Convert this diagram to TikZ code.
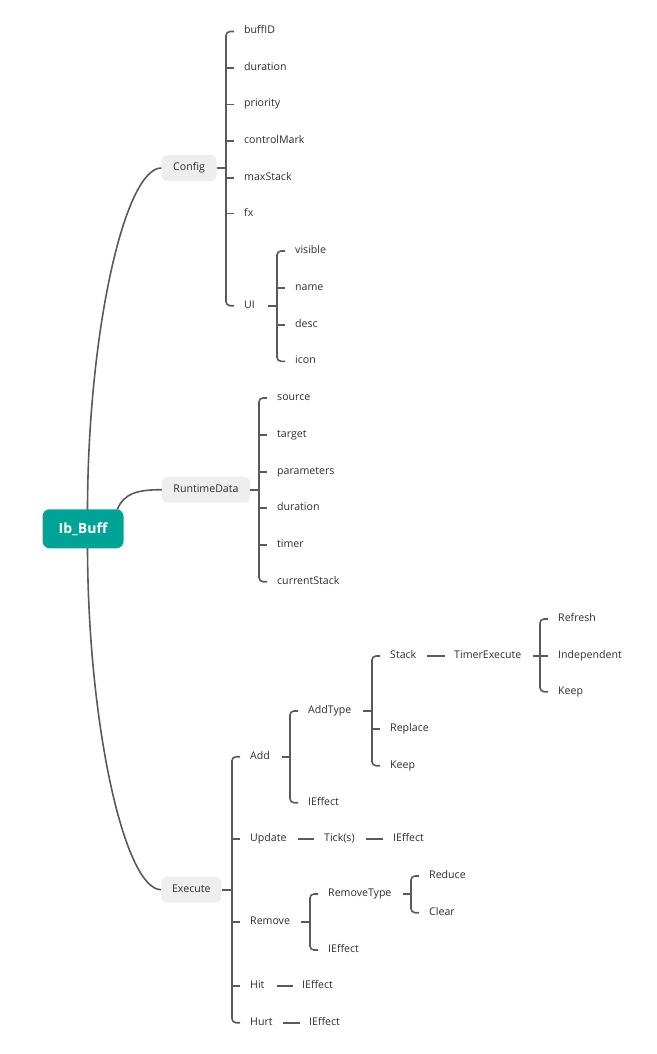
\documentclass[tikz,border=0pt]{standalone}
\usepackage{fontspec}
\setmainfont{Open Sans}
\definecolor{txt}{RGB}{45,45,45}
\definecolor{linec}{RGB}{90,90,90}
\definecolor{boxgray}{RGB}{238,238,238}
\definecolor{rootteal}{RGB}{0,163,150}
\begin{document}
\begin{tikzpicture}[x=1pt,y=-1pt,
  leaf/.style={anchor=west, inner sep=0pt, text=txt, font=\fontsize{10.6}{12}\selectfont, text height=7pt, text depth=2pt},
  topic/.style={fill=boxgray, rounded corners=6pt, minimum height=26pt, inner sep=0pt, text=txt, font=\fontsize{10.6}{12}\selectfont, text height=7pt, text depth=2pt},
  rootbox/.style={fill=rootteal, rounded corners=7pt, minimum width=81pt, minimum height=39pt, inner sep=0pt, text=white, font=\fontsize{14}{16}\selectfont\bfseries},
  conn/.style={draw=linec, line width=1.6pt},
  brack/.style={draw=linec, line width=1.6pt, rounded corners=4pt}
]
\useasboundingbox (0,0) rectangle (656,1054);

% root and main topics
\node[rootbox] (root) at (83,528.8) {Ib\_Buff};
\node[topic, minimum width=55pt] (config) at (189,168) {Config};
\node[topic, minimum width=88pt] (rt) at (206,489.7) {RuntimeData};
\node[topic, minimum width=60pt] (exec) at (191.3,889.7) {Execute};

\coordinate (rtop) at (87.5,509.5);
\coordinate (rbot) at (87.5,548);
\coordinate (rcorner) at (117.3,509.5);
\draw[conn] (rtop) .. controls (88,330) and (125,168) .. (config.west);
\draw[conn] (rbot) .. controls (88,727) and (125,889.7) .. (exec.west);
\draw[conn] (rcorner) .. controls (124,493) and (138,489.7) .. (rt.west);

% Config children
\node[leaf] (buffid) at (244,31.5) {buffID};
\node[leaf] (cdur) at (244,68) {duration};
\node[leaf] (prio) at (244,104.5) {priority};
\node[leaf] (cmark) at (244,141) {controlMark};
\node[leaf] (maxst) at (244,177.7) {maxStack};
\node[leaf] (fx) at (244,213.5) {fx};
\node[leaf] (ui) at (244,305.7) {UI};
\draw[brack] ([xshift=-10pt]buffid.west) -- ([xshift=-18pt]buffid.west) -- ([xshift=-18pt]ui.west) -- ([xshift=-10pt]ui.west);
\foreach \c in {cdur,prio,cmark,maxst,fx}
  \draw[conn] ([xshift=-18pt]\c.west) -- ([xshift=-10pt]\c.west);
\coordinate (bconfig) at ([xshift=-18pt]buffid.west);
\draw[conn] (config.east) -- (config.east -| bconfig);

% UI children
\node[leaf] (vis) at (295,251) {visible};
\node[leaf] (uname) at (295,288) {name};
\node[leaf] (desc) at (295,324.8) {desc};
\node[leaf] (icon) at (295,361.3) {icon};
\draw[brack] ([xshift=-10pt]vis.west) -- ([xshift=-18pt]vis.west) -- ([xshift=-18pt]icon.west) -- ([xshift=-10pt]icon.west);
\foreach \c in {uname,desc}
  \draw[conn] ([xshift=-18pt]\c.west) -- ([xshift=-10pt]\c.west);
\coordinate (bui) at ([xshift=-18pt]vis.west);
\draw[conn] ([xshift=13pt]ui.east) -- (ui.east -| bui);

% RuntimeData children
\node[leaf] (src) at (277,398) {source};
\node[leaf] (tgt) at (277,435) {target};
\node[leaf] (par) at (277,471.7) {parameters};
\node[leaf] (rdur) at (277,508) {duration};
\node[leaf] (timer) at (277,544.7) {timer};
\node[leaf] (cst) at (277,581.7) {currentStack};
\draw[brack] ([xshift=-10pt]src.west) -- ([xshift=-18pt]src.west) -- ([xshift=-18pt]cst.west) -- ([xshift=-10pt]cst.west);
\foreach \c in {tgt,par,rdur,timer}
  \draw[conn] ([xshift=-18pt]\c.west) -- ([xshift=-10pt]\c.west);
\coordinate (brt) at ([xshift=-18pt]src.west);
\draw[conn] (rt.east) -- (rt.east -| brt);

% Execute children
\node[leaf] (add) at (250,756.7) {Add};
\node[leaf] (upd) at (250,839) {Update};
\node[leaf] (rem) at (250,922) {Remove};
\node[leaf] (hit) at (250,985.7) {Hit};
\node[leaf] (hurt) at (250,1022.7) {Hurt};
\draw[brack] ([xshift=-10pt]add.west) -- ([xshift=-18pt]add.west) -- ([xshift=-18pt]hurt.west) -- ([xshift=-10pt]hurt.west);
\foreach \c in {upd,rem,hit}
  \draw[conn] ([xshift=-18pt]\c.west) -- ([xshift=-10pt]\c.west);
\coordinate (bexec) at ([xshift=-18pt]add.west);
\draw[conn] (exec.east) -- (exec.east -| bexec);

% Add children
\node[leaf] (addtype) at (308,711) {AddType};
\node[leaf] (addeff) at (308,802.7) {IEffect};
\draw[brack] ([xshift=-10pt]addtype.west) -- ([xshift=-18pt]addtype.west) -- ([xshift=-18pt]addeff.west) -- ([xshift=-10pt]addeff.west);
\coordinate (badd) at ([xshift=-18pt]addtype.west);
\draw[conn] ([xshift=12pt]add.east) -- (add.east -| badd);

% AddType children
\node[leaf] (stack) at (390,656) {Stack};
\node[leaf] (replace) at (390,729) {Replace};
\node[leaf] (akeep) at (390,765.7) {Keep};
\draw[brack] ([xshift=-10pt]stack.west) -- ([xshift=-18pt]stack.west) -- ([xshift=-18pt]akeep.west) -- ([xshift=-10pt]akeep.west);
\draw[conn] ([xshift=-18pt]replace.west) -- ([xshift=-10pt]replace.west);
\coordinate (batype) at ([xshift=-18pt]stack.west);
\draw[conn] ([xshift=11pt]addtype.east) -- (addtype.east -| batype);

% Stack -> TimerExecute
\node[leaf] (tex) at (454,656) {TimerExecute};
\draw[conn] ([xshift=11pt]stack.east) -- ([xshift=-9pt]tex.west);

% TimerExecute children
\node[leaf] (refresh) at (558,619) {Refresh};
\node[leaf] (indep) at (558,656) {Independent};
\node[leaf] (tkeep) at (558,691.7) {Keep};
\draw[brack] ([xshift=-10pt]refresh.west) -- ([xshift=-18pt]refresh.west) -- ([xshift=-18pt]tkeep.west) -- ([xshift=-10pt]tkeep.west);
\draw[conn] ([xshift=-18pt]indep.west) -- ([xshift=-10pt]indep.west);
\coordinate (btex) at ([xshift=-18pt]refresh.west);
\draw[conn] ([xshift=11pt]tex.east) -- (tex.east -| btex);

% Update chain
\node[leaf] (tick) at (324,839) {Tick(s)};
\node[leaf] (upeff) at (393,839) {IEffect};
\draw[conn] ([xshift=11pt]upd.east) -- ([xshift=-10pt]tick.west);
\draw[conn] ([xshift=11pt]tick.east) -- ([xshift=-10pt]upeff.west);

% Remove children
\node[leaf] (remtype) at (328,894) {RemoveType};
\node[leaf] (remeff) at (328,950) {IEffect};
\draw[brack] ([xshift=-10pt]remtype.west) -- ([xshift=-18pt]remtype.west) -- ([xshift=-18pt]remeff.west) -- ([xshift=-10pt]remeff.west);
\coordinate (brem) at ([xshift=-18pt]remtype.west);
\draw[conn] ([xshift=11pt]rem.east) -- (rem.east -| brem);

% RemoveType children
\node[leaf] (reduce) at (429,876) {Reduce};
\node[leaf] (clear) at (429,912.7) {Clear};
\draw[brack] ([xshift=-10pt]reduce.west) -- ([xshift=-18pt]reduce.west) -- ([xshift=-18pt]clear.west) -- ([xshift=-10pt]clear.west);
\coordinate (brtype) at ([xshift=-18pt]reduce.west);
\draw[conn] ([xshift=11pt]remtype.east) -- (remtype.east -| brtype);

% Hit, Hurt
\node[leaf] (hiteff) at (302,985.7) {IEffect};
\node[leaf] (hurteff) at (309,1022.7) {IEffect};
\draw[conn] ([xshift=12pt]hit.east) -- ([xshift=-9pt]hiteff.west);
\draw[conn] ([xshift=10pt]hurt.east) -- ([xshift=-9pt]hurteff.west);
\end{tikzpicture}
\end{document}
